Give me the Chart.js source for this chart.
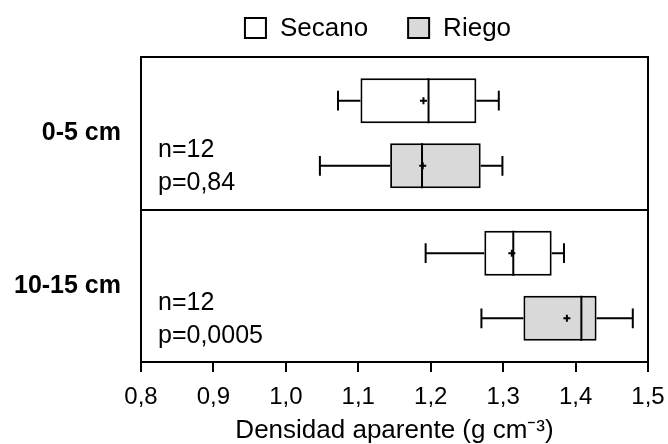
<!DOCTYPE html>
<html>
<head>
<meta charset="utf-8">
<script src="https://cdn.jsdelivr.net/npm/chart.js@4.4.0/dist/chart.umd.min.js"></script>
<style>
  body { margin: 0; background: #fff; }
  #wrap { width: 668px; height: 444px; }
</style>
</head>
<body>
<div id="wrap"><canvas id="boxChart" width="668" height="444"></canvas></div>
<script>
const depths = ["0-5 cm", "10-15 cm"];

// Secano (dry land) box stats per depth
const secanoMin = [1.072, 1.193];
const secanoQ1 = [1.103, 1.274];
const secanoMedian = [1.197, 1.314];
const secanoQ3 = [1.263, 1.367];
const secanoMax = [1.294, 1.384];
const secanoMean = [1.190, 1.312];

// Riego (irrigated) box stats per depth
const riegoMin = [1.047, 1.270];
const riegoQ1 = [1.144, 1.328];
const riegoMedian = [1.188, 1.408];
const riegoQ3 = [1.269, 1.429];
const riegoMax = [1.299, 1.479];
const riegoMean = [1.189, 1.388];

const nValues = [12, 12];
const pValues = ["0,84", "0,0005"];
const tickLabels = ["0,8", "0,9", "1,0", "1,1", "1,2", "1,3", "1,4", "1,5"];

const FONT = "'Liberation Sans', Arial, sans-serif";
Chart.defaults.font.family = FONT;
Chart.defaults.color = "#000";

function makeBox(label, fill, q1, q3, min, max, median, mean) {
  return {
    label: label,
    data: q1.map((v, i) => [v, q3[i]]),
    backgroundColor: fill,
    borderColor: "#000",
    borderWidth: 2,
    borderSkipped: false,
    categoryPercentage: 0.855,
    barPercentage: 0.69,
    stats: { min: min, max: max, median: median, mean: mean },
  };
}

// whiskers, medians and means on top of the floating bars
const boxExtras = {
  id: "boxExtras",
  afterDatasetsDraw(chart) {
    const ctx = chart.ctx;
    const xs = chart.scales.x;
    ctx.save();
    ctx.strokeStyle = "#000";
    chart.data.datasets.forEach((ds, di) => {
      const st = ds.stats;
      chart.getDatasetMeta(di).data.forEach((bar, i) => {
        const y = bar.y;
        const h = bar.height;
        const lo = xs.getPixelForValue(st.min[i]);
        const hi = xs.getPixelForValue(st.max[i]);
        const q1 = xs.getPixelForValue(ds.data[i][0]);
        const q3 = xs.getPixelForValue(ds.data[i][1]);
        const med = xs.getPixelForValue(st.median[i]);
        const mean = xs.getPixelForValue(st.mean[i]);
        const cap = h * 0.22;
        ctx.lineWidth = 2;
        ctx.beginPath();
        ctx.moveTo(lo, y); ctx.lineTo(q1, y);
        ctx.moveTo(q3, y); ctx.lineTo(hi, y);
        ctx.moveTo(lo, y - cap); ctx.lineTo(lo, y + cap);
        ctx.moveTo(hi, y - cap); ctx.lineTo(hi, y + cap);
        ctx.moveTo(med, y - h / 2); ctx.lineTo(med, y + h / 2);
        ctx.stroke();
        ctx.beginPath();
        ctx.moveTo(mean - 3.5, y); ctx.lineTo(mean + 3.5, y);
        ctx.moveTo(mean, y - 3.5); ctx.lineTo(mean, y + 3.5);
        ctx.stroke();
      });
    });
    ctx.restore();
  },
  afterDraw(chart) {
    const ctx = chart.ctx;
    const a = chart.chartArea;
    const ys = chart.scales.y;
    ctx.save();
    // frame
    ctx.strokeStyle = "#000";
    ctx.lineWidth = 2;
    ctx.strokeRect(a.left, a.top, a.right - a.left, a.bottom - a.top);
    // n / p annotations
    ctx.font = "25px " + FONT;
    ctx.fillStyle = "#000";
    ctx.textAlign = "left";
    ctx.textBaseline = "middle";
    depths.forEach((d, i) => {
      const cy = ys.getPixelForValue(i);
      ctx.fillText("n=" + nValues[i], a.left + 17, cy + 17);
      ctx.fillText("p=" + pValues[i], a.left + 17, cy + 50);
    });
    // legend
    ctx.font = "26px " + FONT;
    const box = 21, gap = 14, spacing = 40;
    const items = chart.data.datasets.map((ds) => ({
      text: ds.label, fill: ds.backgroundColor, w: ctx.measureText(ds.label).width,
    }));
    const total = items.reduce((s, it) => s + box + gap + it.w, 0) + spacing * (items.length - 1);
    let x = 378 - total / 2;
    const ly = 28;
    items.forEach((it) => {
      ctx.fillStyle = it.fill;
      ctx.fillRect(x, ly - 10, box, 20);
      ctx.strokeRect(x, ly - 10, box, 20);
      ctx.fillStyle = "#000";
      ctx.fillText(it.text, x + box + gap, ly + 1);
      x += box + gap + it.w + spacing;
    });
    ctx.restore();
  },
};

new Chart(document.getElementById("boxChart"), {
  type: "bar",
  data: {
    labels: depths,
    datasets: [
      makeBox("Secano", "#ffffff", secanoQ1, secanoQ3, secanoMin, secanoMax, secanoMedian, secanoMean),
      makeBox("Riego", "#d9d9d9", riegoQ1, riegoQ3, riegoMin, riegoMax, riegoMedian, riegoMean),
    ],
  },
  options: {
    indexAxis: "y",
    responsive: false,
    animation: false,
    layout: { padding: { top: 57, right: 20, left: 0, bottom: 0 } },
    plugins: { legend: { display: false }, tooltip: { enabled: false } },
    scales: {
      x: {
        type: "linear",
        min: 0.8,
        max: 1.5,
        ticks: {
          stepSize: 0.1,
          padding: 11,
          font: { size: 24 },
          callback: (v, i) => tickLabels[i],
        },
        grid: { display: true, drawOnChartArea: false, drawTicks: true, tickLength: 10, color: "#000", lineWidth: 2 },
        border: { color: "#000", width: 2 },
        title: {
          display: true,
          text: "Densidad aparente (g cm\u207B\u00B3)",
          font: { size: 26, lineHeight: 1 },
          padding: { top: 0, bottom: 0 },
        },
        afterFit: (s) => {
          s.height = 82;
          s.paddingLeft = 0;
          s.paddingRight = 0;
        },
      },
      y: {
        ticks: { padding: 20, font: { size: 25, weight: "bold" } },
        grid: { offset: true, drawTicks: false, color: "#000", lineWidth: 2 },
        border: { color: "#000", width: 2 },
        afterFit: (s) => { s.width = 141; },
      },
    },
  },
  plugins: [boxExtras],
});
</script>
</body>
</html>
